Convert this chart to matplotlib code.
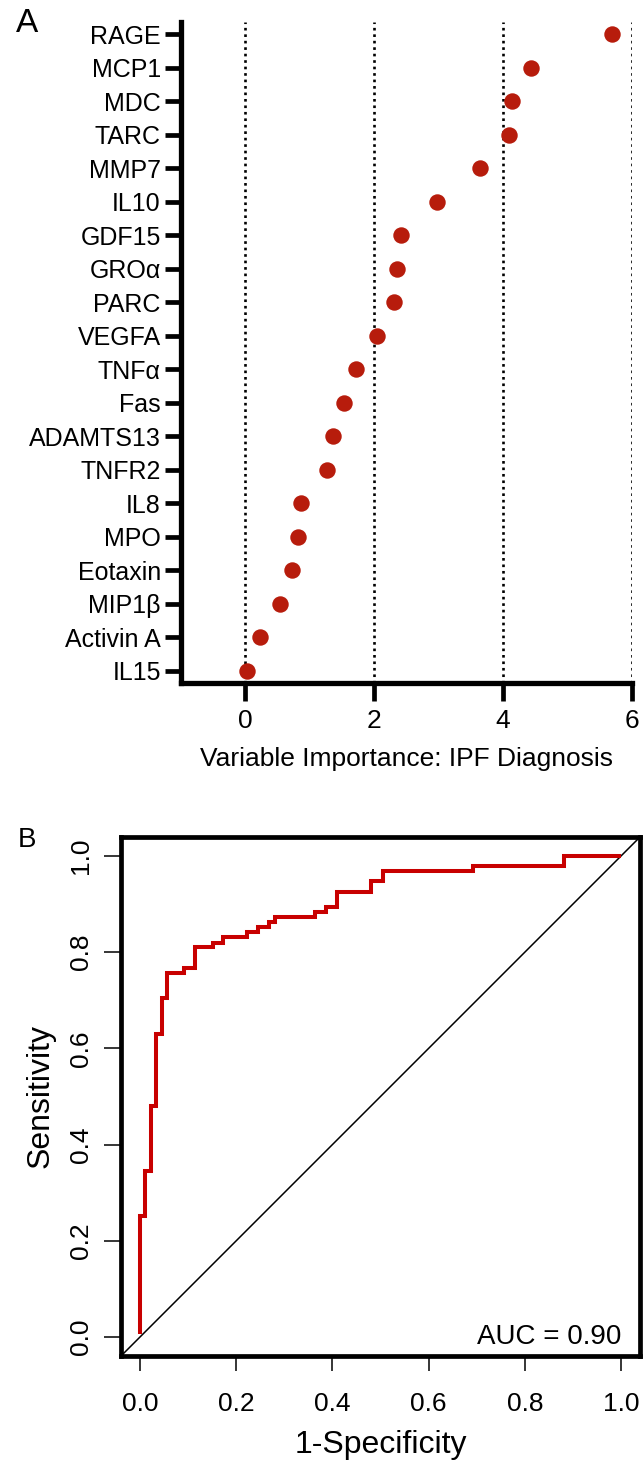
import matplotlib
matplotlib.use("Agg")
import matplotlib.pyplot as plt
import numpy as np

plt.rcParams['font.family'] = ['Liberation Sans', 'DejaVu Sans']

# ---------------- Data ----------------
markers_names = ["RAGE", "MCP1", "MDC", "TARC", "MMP7", "IL10", "GDF15", "GROα",
                 "PARC", "VEGFA", "TNFα", "Fas", "ADAMTS13", "TNFR2", "IL8", "MPO",
                 "Eotaxin", "MIP1β", "Activin A", "IL15"]
importance = [5.69, 4.44, 4.13, 4.09, 3.64, 2.98, 2.41, 2.36, 2.31, 2.04,
              1.72, 1.53, 1.36, 1.27, 0.87, 0.82, 0.72, 0.53, 0.22, 0.02]
imp_ticks = [0, 2, 4, 6]

roc_fpr = [0.0, 0.0, 0.0104, 0.022, 0.033, 0.045, 0.056, 0.091, 0.115, 0.151,
           0.173, 0.222, 0.245, 0.269, 0.280, 0.363, 0.387, 0.409, 0.480, 0.505,
           0.693, 0.882, 1.0]
roc_tpr = [0.007, 0.252, 0.345, 0.48, 0.629, 0.704, 0.756, 0.767, 0.810, 0.820,
           0.831, 0.843, 0.852, 0.863, 0.873, 0.884, 0.893, 0.925, 0.948, 0.969,
           0.979, 1.0, 1.0]
roc_ticks = [0.0, 0.2, 0.4, 0.6, 0.8, 1.0]
auc_text = "AUC = 0.90"

# ---------------- Figure ----------------
W, H = 643, 1466
fig = plt.figure(figsize=(W / 100, H / 100), dpi=100)

def frac(left_px, top_px, right_px, bottom_px):
    return [left_px / W, 1 - bottom_px / H, (right_px - left_px) / W, (bottom_px - top_px) / H]

# ---- Panel A ----
axA = fig.add_axes(frac(181, 22, 632, 683))
n = len(markers_names)
ypos = np.arange(n)[::-1]
axA.set_xlim(-1, 6)
axA.set_ylim(-0.36, n - 1 + 0.36)
for xv in imp_ticks:
    axA.axvline(xv, color='black', lw=1.9, ls=(0, (1, 1.45)), zorder=1)
axA.scatter(importance, ypos, s=140, color='#B71C0C', zorder=3, clip_on=False, linewidths=0)
axA.set_yticks(ypos)
axA.set_yticklabels(markers_names, fontsize=18)
axA.set_xticks(imp_ticks)
axA.set_xticklabels([str(t) for t in imp_ticks], fontsize=19)
for s in ['top', 'right']:
    axA.spines[s].set_visible(False)
for s in ['left', 'bottom']:
    axA.spines[s].set_linewidth(3.8)
axA.tick_params(axis='y', length=11.5, width=3.4, pad=3)
axA.tick_params(axis='x', length=13, width=3.4, pad=6)
axA.set_xlabel("Variable Importance: IPF Diagnosis", fontsize=19, labelpad=10)
fig.text(27 / W, 1 - 23 / H, "A", fontsize=24, ha='center', va='center')

# ---- Panel B ----
axB = fig.add_axes(frac(120.8, 836.8, 640.2, 1356.2))
axB.set_xlim(-0.04, 1.04)
axB.set_ylim(-0.04, 1.04)
axB.plot([-0.04, 1.04], [-0.04, 1.04], color='black', lw=1.1, zorder=2)
axB.step(roc_fpr, roc_tpr, where='post', color='#C80000', lw=2.9, zorder=3,
         solid_capstyle='butt', solid_joinstyle='miter')
for s in axB.spines.values():
    s.set_linewidth(3.4)
axB.set_xticks(roc_ticks)
axB.set_xticklabels([f"{t:.1f}" for t in roc_ticks], fontsize=19)
axB.set_yticks(roc_ticks)
axB.set_yticklabels([f"{t:.1f}" for t in roc_ticks], fontsize=19, rotation=90, va='center')
axB.tick_params(axis='y', length=12, width=1.1, pad=8)
axB.tick_params(axis='x', length=11, width=1.1, pad=15)
axB.set_xlabel("1-Specificity", fontsize=23, labelpad=10)
axB.set_ylabel("Sensitivity", fontsize=23, labelpad=10)
axB.text(1.0, 0.0, auc_text, fontsize=20, ha='right', va='center')
fig.text(27 / W, 1 - 840 / H, "B", fontsize=20, ha='center', va='center')

fig.savefig("out.png", dpi=100)
